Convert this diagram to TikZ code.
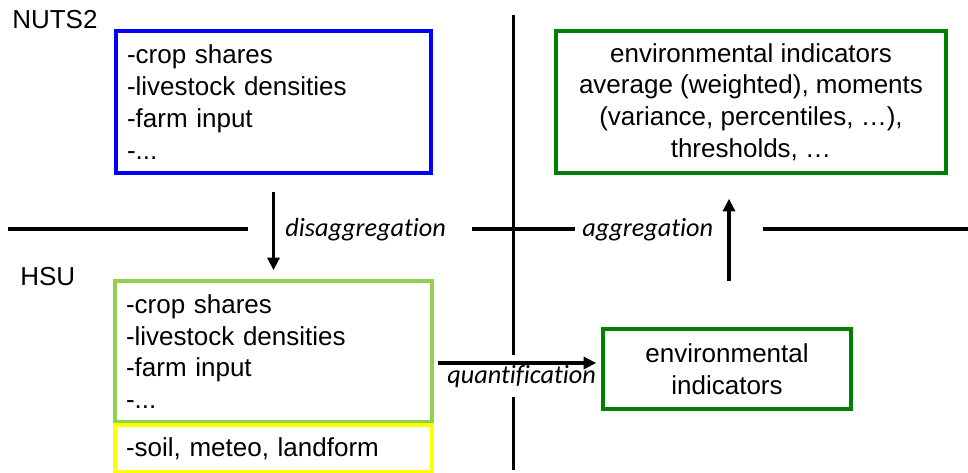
\documentclass[tikz,border=0pt]{standalone}
\usepackage{fontspec}
\setmainfont{Liberation Sans}
\newfontfamily\labfont[RawFeature=-liga]{Carlito}
\usetikzlibrary{arrows.meta,calc}
\definecolor{nutsblue}{HTML}{0000FF}
\definecolor{hsugreen}{HTML}{92D050}
\definecolor{soilyellow}{HTML}{FFFF00}
\definecolor{indgreen}{HTML}{008000}
\tikzset{
  body/.style={font=\fontsize{19.5}{23.8}\selectfont},
  listbox/.style={body, draw, line width=2.6pt, align=left, inner xsep=8.25pt, inner ysep=0pt},
  centbox/.style={body, draw, line width=2.6pt, align=center, inner sep=0pt},
  lvl/.style={body, anchor=base west, inner sep=0pt},
  lab/.style={font=\fontsize{19.7}{24}\labfont\itshape, anchor=base west, inner sep=0pt},
  sep/.style={line width=2.4pt},
  arr/.style={line width=2.4pt, -{Triangle[length=9.5pt,width=9pt]}}
}
\begin{document}
\begin{tikzpicture}[x=0.75pt,y=-0.75pt]
\useasboundingbox (0,0) rectangle (968,473);
% level labels
\node[lvl] (nuts) at (12,29) {NUTS2};
\node[lvl] (hsulab) at (20,286) {HSU};
% boxes
\node[listbox, draw=nutsblue, text width=219.75pt, minimum height=106.5pt] (blue) at (273.5,102)
  {-crop shares\\-livestock densities\\-farm input\\-...};
\node[listbox, draw=hsugreen, text width=221.25pt, minimum height=105.75pt] (hsu) at (273.5,351.5)
  {-crop shares\\-livestock densities\\-farm input\\-...};
\node[listbox, draw=soilyellow, text width=221.25pt, minimum height=35.25pt] (soil) at (273.5,448.5)
  {-soil, meteo, landform};
\node[centbox, draw=indgreen, minimum width=292.5pt, minimum height=106.5pt] (top) at (751,102)
  {environmental indicators\\average (weighted), moments\\(variance, percentiles, \dots),\\thresholds, \dots};
\node[centbox, draw=indgreen, minimum width=186pt, minimum height=60pt] (envind) at (727,369)
  {environmental\\indicators};
% separator lines
\coordinate (h1a) at (8,229);
\coordinate (h1b) at (248,229);
\coordinate (h2a) at (472,229);
\coordinate (h2b) at (575,229);
\coordinate (h3a) at (763,229);
\coordinate (h3b) at (968,229);
\coordinate (v1a) at (513.5,15);
\coordinate (v1b) at (513.5,355);
\coordinate (v2a) at (513.5,397);
\coordinate (v2b) at (513.5,470);
\draw[sep] (h1a) -- (h1b);
\draw[sep] (h2a) -- (h2b);
\draw[sep] (h3a) -- (h3b);
\draw[sep] (v1a) -- (v1b);
\draw[sep] (v2a) -- (v2b);
% arrows
\draw[arr] ($(blue.south)+(0,17)$) -- ($(hsu.north)+(0,-9)$);
\draw[arr] ($(top.south)+(-22,106)$) -- ($(top.south)+(-22,24)$);
\coordinate (q1) at (438,363);
\draw[arr] (q1) -- ($(envind.west|-q1)+(-5,0)$);
% labels
\node[lab] (dis) at (285,237) {disaggregation};
\node[lab] (agg) at (582,237) {aggregation};
\node[lab] (qua) at (447,384) {quantification};
\end{tikzpicture}
\end{document}
